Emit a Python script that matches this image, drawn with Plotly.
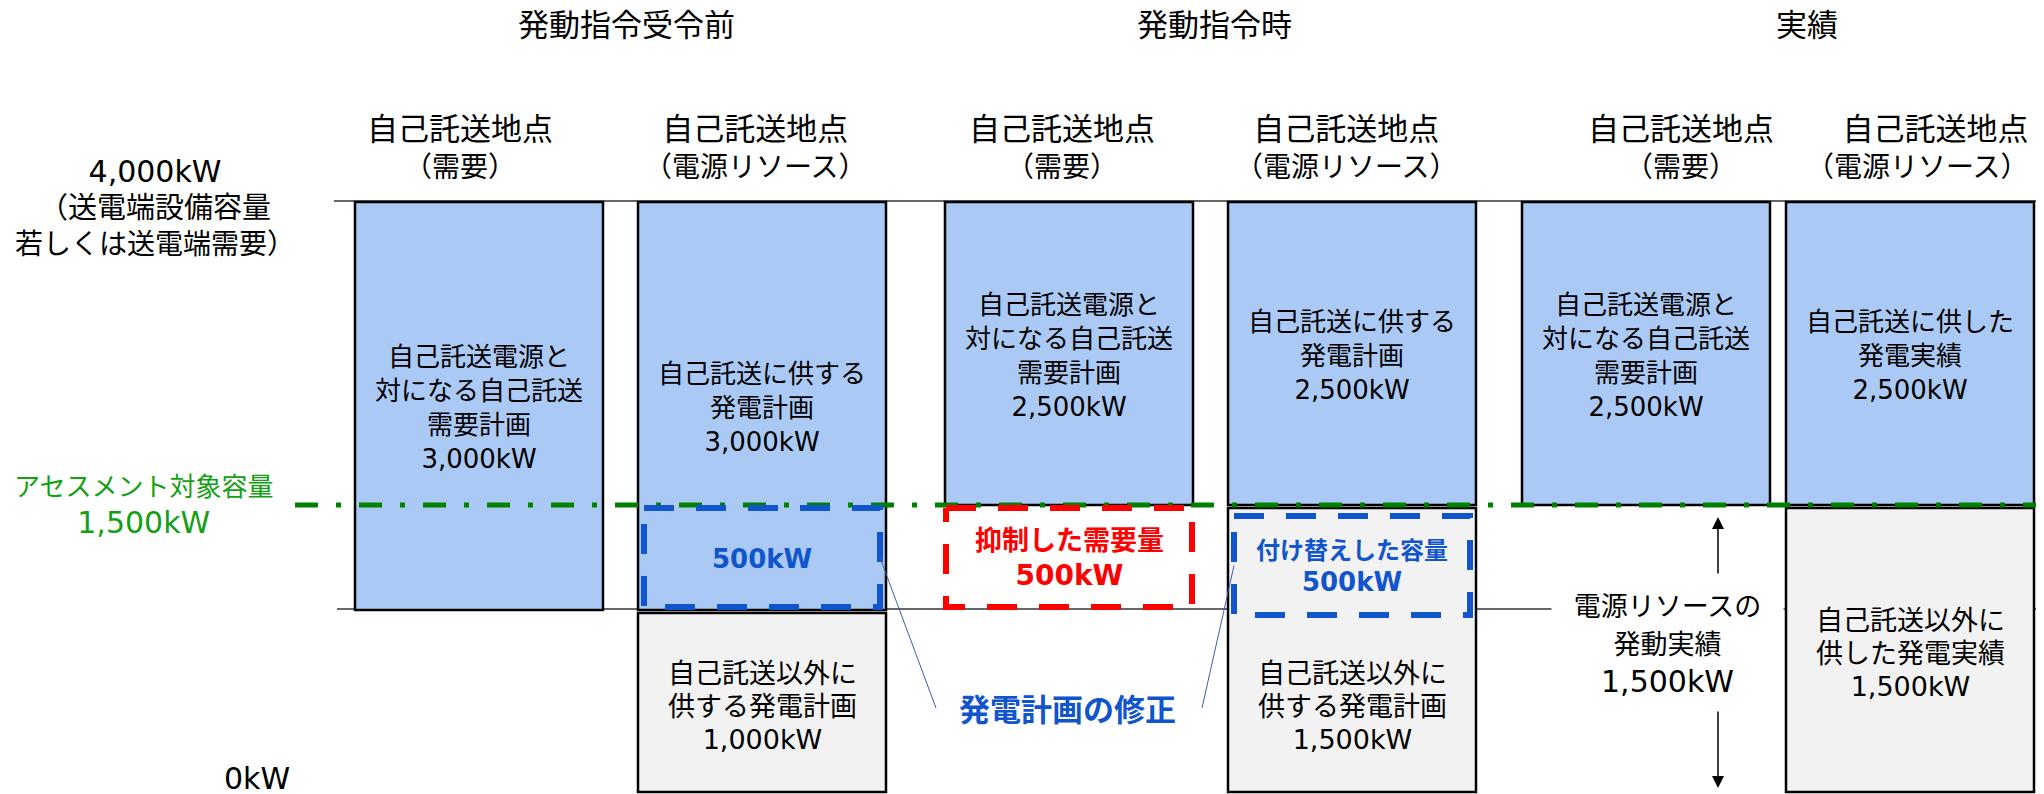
import numpy as np
import plotly.graph_objects as go

# ── data ──────────────────────────────────────────────────────────────────────
TITLES = ["発動指令受令前", "発動指令時", "実績"]
HEADER_TOP = ["自己託送地点"] * 6
HEADER_SUB = ["（需要）", "（電源リソース）"] * 3

CAPACITY_KW = 4000          # 送電端設備容量
ASSESS_KW = 1500            # アセスメント対象容量
SHIFT_KW = 500              # 抑制/付け替え量
ACTUAL_KW = 1500            # 電源リソースの発動実績

BLUE_KW = [3000, 3000, 2500, 2500, 2500, 2500]
GRAY_KW = [None, 1000, None, 1500, None, 1500]
BLUE_TEXT = [
    ["自己託送電源と", "対になる自己託送", "需要計画"],
    ["自己託送に供する", "発電計画"],
    ["自己託送電源と", "対になる自己託送", "需要計画"],
    ["自己託送に供する", "発電計画"],
    ["自己託送電源と", "対になる自己託送", "需要計画"],
    ["自己託送に供した", "発電実績"],
]
GRAY_TEXT = [None, ["自己託送以外に", "供する発電計画"], None,
             ["自己託送以外に", "供する発電計画"], None,
             ["自己託送以外に", "供した発電実績"]]
BOX_KIND = [None, "blue", "red", "blue", None, None]
BOX_TEXT = [None, [], ["抑制した需要量"], ["付け替えした容量"], None, None]

# ── layout / style ────────────────────────────────────────────────────────────
W, H = 2044, 794
OFF = 8                      # default body margin of the html page
FONT = "DejaVu Sans, Noto Sans CJK JP, sans-serif"
BLUE_FILL = "#ABC9F5"
GRAY_FILL = "#F2F2F2"
DASH_BLUE = "#1155CC"
RED = "#FF0000"
GREEN_LINE = "#008000"
GREEN_TEXT = "#14A014"

COL_X = [479, 762, 1069, 1352, 1646, 1910]
BAR_W = 248
HEADER_X = [460, 755, 1062, 1346, 1681, 2030]
HEADER_ANCHOR = ["center"] * 5 + ["right"]
TITLE_X = [626, 1214, 1807]

# schematic (not to scale) vertical placement of the kW levels
LEVEL_KW = [0, ASSESS_KW - SHIFT_KW, ASSESS_KW, CAPACITY_KW]
LEVEL_PX = [792, 610, 505, 202]


def ypos(kw):
    return float(np.interp(kw, LEVEL_KW, LEVEL_PX))


def kw(v):
    return f"{v:,}kW"


def label(fig, lines, x, yc, sizes, gap, color="black", bold=False, bg=None,
          width=None, anchor="center"):
    if not isinstance(sizes, list):
        sizes = [sizes] * len(lines)
    base = gap / 1.3
    parts = []
    for t, s in zip(lines, sizes):
        t = f"<b>{t}</b>" if bold else t
        parts.append(f"<span style='font-size:{s}px'>{t}</span>")
    fig.add_annotation(
        x=x, y=yc, xref="x", yref="y", text="<br>".join(parts), showarrow=False,
        font=dict(size=base, color=color, family=FONT), align=anchor, xanchor=anchor,
        bgcolor=bg or "rgba(0,0,0,0)", width=width, borderpad=0,
    )


fig = go.Figure()

# reference lines (capacity / 1,000kW level)
for lvl, x0 in [(CAPACITY_KW, 334), (ASSESS_KW - SHIFT_KW, 337)]:
    fig.add_shape(type="line", x0=x0, x1=W + OFF, y0=ypos(lvl) - 1, y1=ypos(lvl) - 1,
                  xref="x", yref="y", layer="below",
                  line=dict(color="#333333", width=1.5))

# blue bars: top at capacity
blue_base = [CAPACITY_KW - b for b in BLUE_KW]
fig.add_trace(go.Bar(
    x=COL_X,
    y=[ypos(CAPACITY_KW) - ypos(b) for b in blue_base],
    base=[ypos(b) for b in blue_base],
    width=BAR_W,
    marker=dict(color=BLUE_FILL, line=dict(color="black", width=2.5)),
    hoverinfo="skip",
))

# gray bars: from 0 up (small gap under the blue box gives the double edge)
gx = [COL_X[i] for i, g in enumerate(GRAY_KW) if g]
gv = [g for g in GRAY_KW if g]
fig.add_trace(go.Bar(
    x=gx,
    y=[ypos(g) + 3 - ypos(0) for g in gv],
    base=[ypos(0)] * len(gv),
    width=BAR_W,
    marker=dict(color=GRAY_FILL, line=dict(color="black", width=2.5)),
    hoverinfo="skip",
))

# assessment line
fig.add_trace(go.Scatter(
    x=[295, W + OFF], y=[ypos(ASSESS_KW)] * 2, mode="lines",
    line=dict(color=GREEN_LINE, width=5, dash="23px,18px,5px,18px"),
    hoverinfo="skip",
))

# dashed boxes (ASSESS - SHIFT .. ASSESS)
box_edges = {}
for i, kind in enumerate(BOX_KIND):
    if not kind:
        continue
    half = 118 if kind == "blue" else 123
    dy = 8 if (GRAY_KW[i] or 0) >= ASSESS_KW else 0
    l, r = COL_X[i] - half, COL_X[i] + half
    t, b = ypos(ASSESS_KW) + 3 + dy, ypos(ASSESS_KW - SHIFT_KW) - 3 + dy
    box_edges[i] = (l, r, (t + b) / 2)
    color = DASH_BLUE if kind == "blue" else RED
    fig.add_trace(go.Scatter(
        x=[l, r, r, l, l], y=[t, t, b, b, t], mode="lines",
        line=dict(color=color, width=6, dash="30px,22px"),
        hoverinfo="skip",
    ))
    if kind == "red":
        label(fig, BOX_TEXT[i] + [kw(SHIFT_KW)], COL_X[i], (t + b) / 2 + 1,
              [27, 28], 35, color=color, bold=True)
    elif BOX_TEXT[i]:
        label(fig, BOX_TEXT[i] + [kw(SHIFT_KW)], COL_X[i], (t + b) / 2 + 1,
              [24, 26], 32, color=color, bold=True)
    else:
        label(fig, [kw(SHIFT_KW)], COL_X[i], (t + b) / 2 + 1, 26, 34,
              color=color, bold=True)

# connector lines to "発電計画の修正"
FIX_X, FIX_Y = 1067, 710
l2, r2, m2 = box_edges[1]
l4, r4, m4 = box_edges[3]
for xs, ys in [([r2, FIX_X - 131], [m2, FIX_Y - 2]), ([l4, FIX_X + 135], [m4, FIX_Y - 2])]:
    fig.add_trace(go.Scatter(x=xs, y=ys, mode="lines",
                             line=dict(color="#3A5FB0", width=1), hoverinfo="skip"))
label(fig, ["発電計画の修正"], FIX_X, FIX_Y, 31, 40, color=DASH_BLUE, bold=True)

# texts in bars
for i, lines in enumerate(BLUE_TEXT):
    yc = (ypos(CAPACITY_KW) + ypos(blue_base[i])) / 2 + 2
    label(fig, lines + [kw(BLUE_KW[i])], COL_X[i], yc, 26, 34)
for i, lines in enumerate(GRAY_TEXT):
    if not lines:
        continue
    top = ASSESS_KW - SHIFT_KW if BOX_KIND[i] else GRAY_KW[i]
    yc = (ypos(top) + ypos(0)) / 2 + 5
    label(fig, lines + [kw(GRAY_KW[i])], COL_X[i], yc, 27, 33)

# actual dispatch of the resource (column 5)
AX = COL_X[4] + 72
fig.add_annotation(x=AX, y=ypos(ASSESS_KW) + 12, ax=AX, ay=575, xref="x", yref="y",
                   axref="x", ayref="y", showarrow=True, arrowhead=2, arrowsize=1.6,
                   arrowwidth=1.5, arrowcolor="black", text="")
fig.add_annotation(x=AX, y=ypos(0) - 4, ax=AX, ay=710, xref="x", yref="y",
                   axref="x", ayref="y", showarrow=True, arrowhead=2, arrowsize=1.6,
                   arrowwidth=1.5, arrowcolor="black", text="")
label(fig, ["電源リソースの", "発動実績", kw(ACTUAL_KW)], 1667,
      (ypos(ASSESS_KW) + ypos(0)) / 2 - 4, [27, 27, 30], 38, bg="white", width=231)

# titles and headers
for x, t in zip(TITLE_X, TITLES):
    label(fig, [t], x, 25, 31, 40)
for x, a, b, anc in zip(HEADER_X, HEADER_TOP, HEADER_SUB, HEADER_ANCHOR):
    label(fig, [a, b], x, 147, [31, 28], 37, anchor=anc)

# left axis labels
label(fig, [kw(CAPACITY_KW), "（送電端設備容量", "若しくは送電端需要）"], 155,
      ypos(CAPACITY_KW) + 5, [30, 29, 28], 36)
label(fig, ["アセスメント対象容量", kw(ASSESS_KW)], 143, ypos(ASSESS_KW) + 1,
      [26, 30], 37, color=GREEN_TEXT)
label(fig, [kw(0)], 257, ypos(0) - 14, 30, 39)

fig.update_layout(
    width=W, height=H,
    margin=dict(l=0, r=0, t=0, b=0),
    paper_bgcolor="white", plot_bgcolor="white",
    barmode="overlay", showlegend=False,
    xaxis=dict(range=[OFF, W + OFF], visible=False, fixedrange=True),
    yaxis=dict(range=[H + OFF, OFF], visible=False, fixedrange=True),
    font=dict(family=FONT),
)

fig.write_html("out.html")
